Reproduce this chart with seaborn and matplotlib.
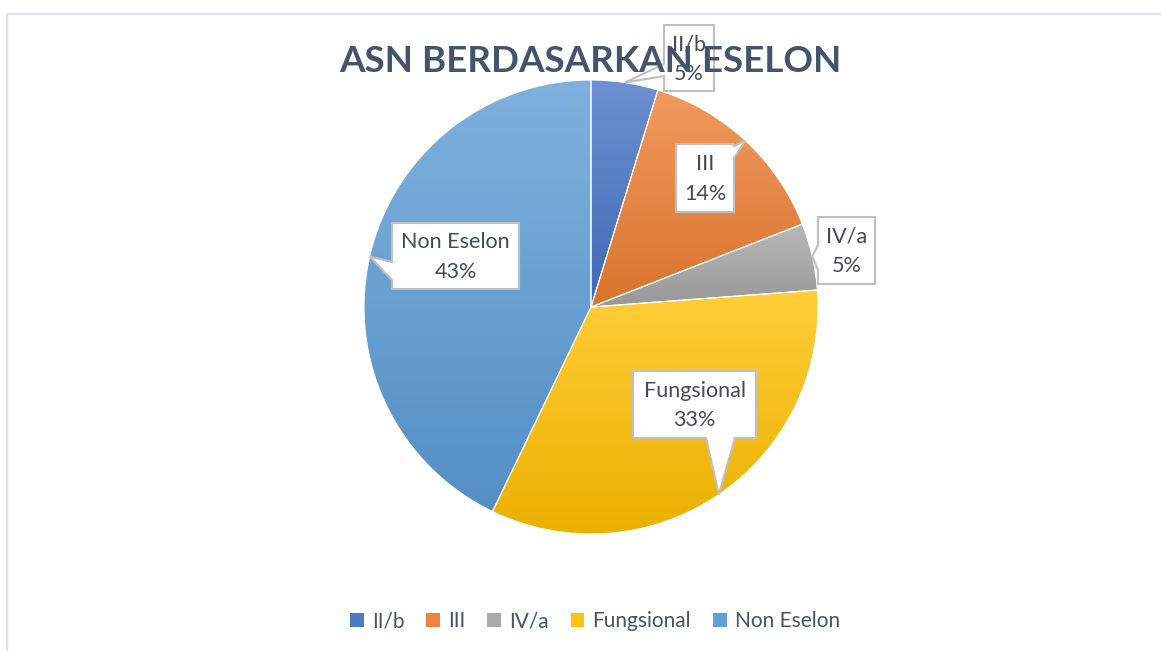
import numpy as np
import matplotlib
matplotlib.use("Agg")
import matplotlib.pyplot as plt
import seaborn as sns
from matplotlib.patches import Polygon, Rectangle
from matplotlib.colors import to_rgb

# ---------------- data ----------------
categories = ["II/b", "III", "IV/a", "Fungsional", "Non Eselon"]
counts = [1, 3, 1, 7, 9]
title = "ASN BERDASARKAN ESELON"

# ---------------- style ----------------
sns.set_theme(style="white")
plt.rcParams['font.family'] = ['Lato', 'DejaVu Sans']
base_colors = sns.color_palette(["#4472C4", "#ED7D31", "#A5A5A5", "#FFC000", "#5B9BD5"])
TEXT = "#404B5A"
TITLE_C = "#44546A"

W, H = 1161, 651
fig = plt.figure(figsize=(W / 100, H / 100), dpi=100)
ax = fig.add_axes([0, 0, 1, 1])

CX, CY, R = 591, 307, 227  # pixel layout (y down)


def py(y):
    return H - y


wedges, _ = ax.pie(counts, colors=base_colors, startangle=90, counterclock=False,
                   center=(CX, py(CY)), radius=R,
                   wedgeprops=dict(edgecolor="white", linewidth=0.8))


def shade(c, f):
    c = np.array(to_rgb(c))
    if f >= 0:
        return c + (1 - c) * f
    return c * (1 + f)


for w, c in zip(wedges, base_colors):
    ext = w.get_path().get_extents()
    top = shade(c, 0.22)
    bot = shade(c, -0.08)
    t = np.linspace(0, 1, 256)[:, None]
    grad = (bot[None, :] * (1 - t) + top[None, :] * t)[:, None, :]
    im = ax.imshow(grad, extent=(ext.x0, ext.x1, ext.y0, ext.y1), origin="lower",
                   aspect="auto", zorder=1, interpolation="bilinear")
    im.set_clip_path(w)
    w.set_facecolor("none")
    w.set_zorder(2)

# ---------------- callout labels ----------------
total = sum(counts)
pcts = [round(100 * c / total) for c in counts]
cum = np.cumsum([0] + counts)
mids = [(cum[i] + cum[i + 1]) / 2 / total for i in range(len(counts))]

# box (x0, y0, x1, y1) in pixels, pointer side, pointer base span
layout = [
    ((664, 25, 714, 91), "left", (64, 76)),
    ((676, 144, 734, 212), "right", (146, 158)),
    ((818, 217, 875, 284), "left", (245, 270)),
    ((633, 371, 756, 438), "bottom", (706, 735)),
    ((392, 223, 519, 289), "left", (262, 280)),
]


def callout(box, side, span, tip):
    x0, y0, x1, y1 = box
    a, b = span
    pts = [(x0, y0)]
    if side == "top":
        pts += [(a, y0), tip, (b, y0)]
    pts += [(x1, y0)]
    if side == "right":
        pts += [(x1, a), tip, (x1, b)]
    pts += [(x1, y1)]
    if side == "bottom":
        pts += [(b, y1), tip, (a, y1)]
    pts += [(x0, y1)]
    if side == "left":
        pts += [(x0, b), tip, (x0, a)]
    return [(x, py(y)) for x, y in pts]


for cat, p, m, (box, side, span) in zip(categories, pcts, mids, layout):
    ang = np.deg2rad(90 - 360 * m)
    tip = (CX + R * np.cos(ang), CY - R * np.sin(ang))
    poly = Polygon(callout(box, side, span, tip), closed=True, facecolor="white",
                   edgecolor="#BFBFBF", linewidth=1.5, zorder=5, joinstyle="miter")
    ax.add_patch(poly)
    bx = (box[0] + box[2]) / 2
    by = (box[1] + box[3]) / 2
    ax.text(bx, py(by + 1), f"{cat}\n{p}%", ha="center", va="center", fontsize=15.5,
            color=TEXT, linespacing=1.6, zorder=6)

# ---------------- title ----------------
ax.text(590, py(62), title, ha="center", va="center", fontsize=26.5, fontweight="bold",
        color=TITLE_C, zorder=7)

# ---------------- frame lines ----------------
ax.plot([7, W], [py(14), py(14)], color="#DDE1E6", lw=1.6, zorder=0, solid_capstyle="butt")
ax.plot([7, 7], [py(14), 0], color="#DDE1E6", lw=1.6, zorder=0, solid_capstyle="butt")

ax.set_xlim(0, W)
ax.set_ylim(0, H)
ax.set_aspect("equal")
ax.set_axis_off()

# ---------------- legend ----------------
handles = [Rectangle((0, 0), 1, 1, facecolor=shade(c, 0.05), edgecolor="none") for c in base_colors]
fig.legend(handles, categories, loc="center", bbox_to_anchor=(595 / W, 1 - 621 / H),
           ncol=5, frameon=False, fontsize=15, handlelength=0.65, handleheight=0.65,
           handletextpad=0.4, columnspacing=1.05, labelcolor=TITLE_C)

fig.savefig("out.png", dpi=100)
